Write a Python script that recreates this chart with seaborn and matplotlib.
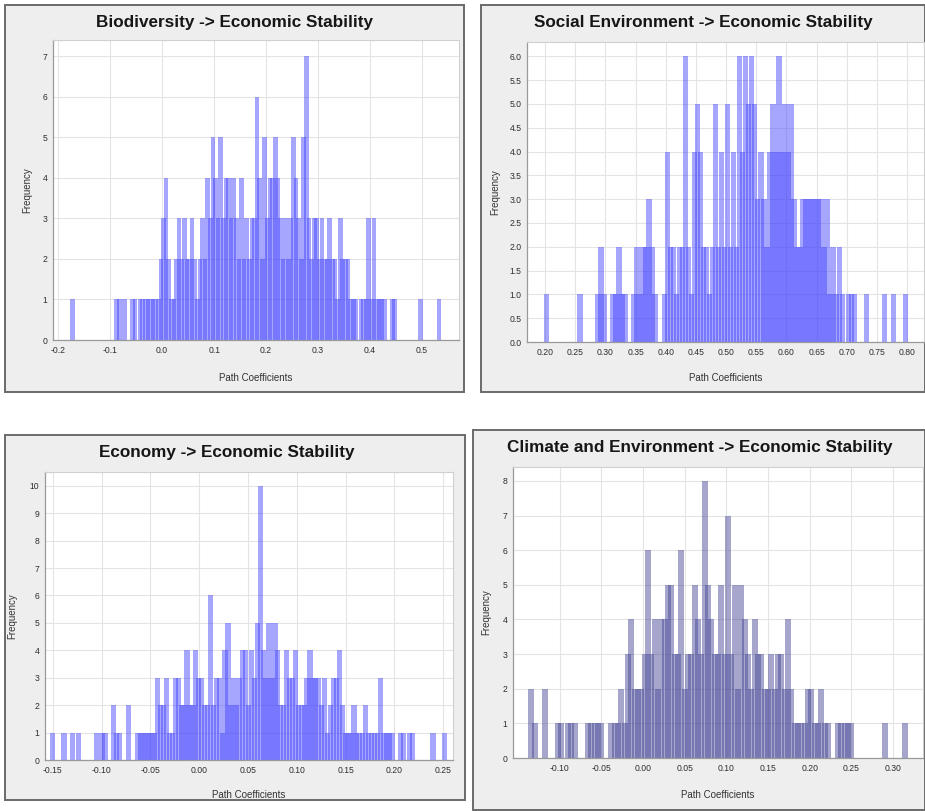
import numpy as np
import pandas as pd
import matplotlib
matplotlib.use("Agg")
import matplotlib.pyplot as plt
from matplotlib.patches import Rectangle
from matplotlib.ticker import FixedLocator, FormatStrFormatter
import seaborn as sns

# ---- bootstrap frequency counts per path-coefficient bin ----
bio_title = "Biodiversity -> Economic Stability"
bio_start, bio_width = -0.18, 0.005
bio_counts = [0, 1] + [0] * 16 + [1, 1, 0, 1, 0, 0, 1, 1, 0, 1,
              1, 1, 1, 1, 1, 1, 1, 2,
              3, 4, 2, 1, 1, 2, 3, 2, 3, 2,
              2, 3, 2, 1, 2, 3, 2, 4, 3, 5,
              4, 3, 5, 3, 4, 4, 3, 4, 3, 2,
              4, 2, 3, 2, 3, 3, 6, 4, 2, 5,
              3, 4, 4, 5, 4, 3, 2, 3, 2, 3,
              5, 4, 3, 2, 5, 7, 3, 2, 3, 3,
              2, 3, 2, 2, 3, 2, 2, 1, 3, 2,
              2, 2, 1, 1, 1, 0, 1, 1, 1, 3,
              1, 3, 1, 1, 1, 1, 0, 0, 1, 1,
              0, 0, 0, 0, 0, 0, 0, 0, 0, 1,
              0, 0, 0, 0, 0, 0, 1, 0]

soc_title = "Social Environment -> Economic Stability"
soc_start, soc_width = 0.195, 0.005
soc_counts = [0, 1] + [0] * 10 + [1] + [0] * 5 + [1, 2, 1, 0, 0, 1, 1, 2, 1, 1,
              0, 0, 1, 2, 1, 2, 2, 3, 2, 1, 0, 0, 1,
              4, 2, 2, 1, 2, 2, 6, 2, 1, 4,
              5, 4, 2, 2, 1, 2, 5, 2, 4, 2,
              5, 2, 4, 2, 6, 4, 6, 5, 6, 5,
              3, 4, 3, 2, 4, 5, 4, 6, 4, 5,
              4, 5, 3, 2, 2, 3, 3, 3, 3, 3,
              3, 3, 2, 3, 1, 2, 1, 2, 1, 0,
              1, 1, 1, 0, 0, 0, 1, 0, 0, 0,
              0, 0, 1, 0, 0, 1, 0, 0, 0, 1, 0]

eco_title = "Economy -> Economic Stability"
eco_start, eco_width = -0.152, 0.003
eco_counts = [1, 0, 0, 0, 1, 0, 0, 1, 0, 1,
              0, 0, 0, 0, 0, 1, 0, 1, 1, 0,
              0, 2, 1, 1, 0, 0, 2, 0, 0, 1,
              1, 1, 1, 1, 1, 1, 3, 2, 2, 3,
              1, 1, 3, 3, 2, 2, 4, 2, 2, 4,
              3, 3, 2, 2, 6, 2, 3, 3, 1, 4,
              5, 2, 3, 2, 3, 4, 4, 2, 4, 3,
              5, 10, 4, 3, 5, 3, 5, 4, 2, 2,
              4, 3, 3, 4, 2, 2, 2, 3, 4, 3,
              3, 3, 2, 3, 1, 2, 3, 3, 4, 2,
              1, 1, 1, 2, 1, 1, 1, 2, 1, 1,
              1, 1, 3, 1, 1, 1, 1, 0, 0, 1,
              1, 0, 1, 1, 0, 0, 0, 0, 0, 0,
              1, 0, 0, 0, 1]

cli_title = "Climate and Environment -> Economic Stability"
cli_start, cli_width = -0.14, 0.004
cli_counts = [0, 2, 1, 0, 0, 2, 0, 0, 0, 1,
              1, 0, 1, 1, 1, 0, 0, 0, 1, 1,
              1, 1, 1, 0, 0, 1, 1, 1, 2, 1,
              3, 4, 2, 2, 2, 3, 6, 3, 4, 2,
              4, 4, 5, 5, 3, 3, 6, 2, 3, 3,
              5, 4, 3, 8, 5, 4, 3, 3, 5, 3,
              7, 3, 5, 2, 5, 4, 3, 2, 4, 3,
              3, 2, 2, 3, 2, 3, 3, 2, 4, 2,
              1, 1, 1, 1, 2, 2, 1, 1, 2, 1,
              1, 0, 0, 1, 1, 1, 1, 1, 0, 0,
              0, 0, 0, 0, 0, 0, 0, 1, 0, 0,
              0, 0, 0, 1, 0]

W, H = 925, 811
sns.set_style("white")
plt.rcParams["font.family"] = ["Liberation Sans", "DejaVu Sans"]

fig = plt.figure(figsize=(W / 100, H / 100), dpi=100)
fig.patch.set_facecolor("white")


def fig_box(x0, y0, x1, y1):
    return [x0 / W, 1 - y1 / H, (x1 - x0) / W, (y1 - y0) / H]


def draw_panel(frame, plot, title, title_xy, start, width, counts,
               xlim, ylim, xticks, yticks, xfmt, yfmt, color,
               xlabel_y, ylabel_x):
    fx0, fy0, fx1, fy1 = frame
    fig.patches.append(Rectangle((fx0 / W, 1 - fy1 / H), (fx1 - fx0) / W, (fy1 - fy0) / H,
                                 transform=fig.transFigure, facecolor="#eeeeee",
                                 edgecolor="#6a6a6a", linewidth=1.4, zorder=-10))
    fig.text(title_xy[0] / W, 1 - title_xy[1] / H, title, ha="center", va="center",
             fontsize=12.3, fontweight="heavy", color="#161616",
             family=["Liberation Sans", "DejaVu Sans"])

    ax = fig.add_axes(fig_box(*plot))
    ax.set_facecolor("white")
    counts = np.asarray(counts, dtype=float)
    edges = start + width * np.arange(len(counts) + 1)
    centers = (edges[:-1] + edges[1:]) / 2
    df = pd.DataFrame({"coef": centers, "freq": counts})
    # overlapping translucent bars: dense runs of bins read darker
    sns.histplot(data=df, x="coef", weights="freq", bins=edges.tolist(), shrink=1.8,
                 color=color, alpha=0.48, linewidth=0, ax=ax)

    ax.set_xlim(*xlim)
    ax.set_ylim(*ylim)
    ax.xaxis.set_major_locator(FixedLocator(xticks))
    ax.yaxis.set_major_locator(FixedLocator(yticks))
    ax.xaxis.set_major_formatter(FormatStrFormatter(xfmt))
    ax.yaxis.set_major_formatter(FormatStrFormatter(yfmt))
    ax.grid(True, color="#e4e4e4", linewidth=0.8)
    ax.set_axisbelow(True)
    ax.tick_params(labelsize=6.2, colors="#555555", length=2, width=0.6, pad=2,
                   labelcolor="#2e2e2e")
    for side in ("top", "right"):
        ax.spines[side].set_color("#d0d0d0")
        ax.spines[side].set_linewidth(0.8)
    for side in ("left", "bottom"):
        ax.spines[side].set_color("#9a9a9a")
        ax.spines[side].set_linewidth(0.9)

    px0, py0, px1, py1 = plot
    ax.set_xlabel("Path Coefficients", fontsize=7, color="#333333")
    ax.set_ylabel("Frequency", fontsize=7, color="#333333")
    ax.xaxis.set_label_coords(0.5, -(xlabel_y - py1) / (py1 - py0))
    ax.yaxis.set_label_coords(-(px0 - ylabel_x) / (px1 - px0), 0.5)
    return ax


draw_panel((5, 5, 464, 392), (53, 40, 459, 340), bio_title, (234, 22),
           bio_start, bio_width, bio_counts,
           (-0.21, 0.571), (0, 7.4),
           [-0.2, -0.1, 0.0, 0.1, 0.2, 0.3, 0.4, 0.5], list(range(0, 8)),
           "%.1f", "%d", "#4646ff", 373, 32)

draw_panel((481, 5, 925, 392), (527, 42, 924, 342), soc_title, (703, 22),
           soc_start, soc_width, soc_counts,
           (0.17, 0.828), (0, 6.3),
           [0.20, 0.25, 0.30, 0.35, 0.40, 0.45, 0.50, 0.55, 0.60, 0.65, 0.70, 0.75, 0.80],
           [0.0, 0.5, 1.0, 1.5, 2.0, 2.5, 3.0, 3.5, 4.0, 4.5, 5.0, 5.5, 6.0],
           "%.2f", "%.1f", "#4646ff", 373, 500)

draw_panel((5, 435, 465, 800), (45, 472, 453, 760), eco_title, (227, 453),
           eco_start, eco_width, eco_counts,
           (-0.158, 0.26), (0, 10.5),
           [-0.15, -0.10, -0.05, 0.00, 0.05, 0.10, 0.15, 0.20, 0.25], list(range(0, 11)),
           "%.2f", "%d", "#4646ff", 790, 17)

draw_panel((473, 430, 925, 810), (513, 467, 923, 758), cli_title, (700, 448),
           cli_start, cli_width, cli_counts,
           (-0.156, 0.336), (0, 8.4),
           [-0.10, -0.05, 0.00, 0.05, 0.10, 0.15, 0.20, 0.25, 0.30], list(range(0, 9)),
           "%.2f", "%d", "#454596", 790, 491)

fig.savefig("out.png", dpi=100)
